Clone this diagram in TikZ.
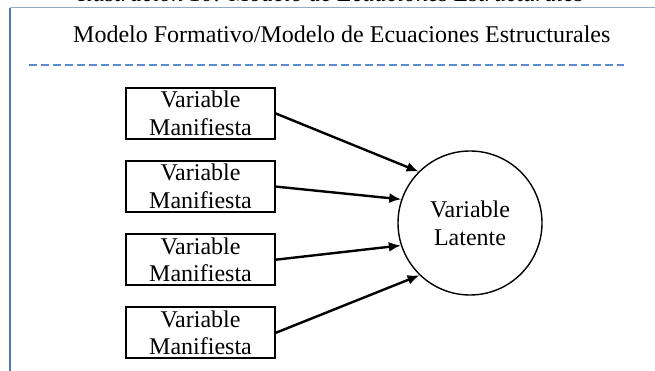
\documentclass[tikz,border=0pt]{standalone}
\usepackage{fontspec}
\setmainfont{Liberation Serif}
\usetikzlibrary{positioning,arrows.meta}
\definecolor{frameblue}{HTML}{4F79B5}
\definecolor{framelight}{HTML}{93ABCB}
\definecolor{dashblue}{HTML}{5B8BCF}
\tikzset{
  manifest box/.style={
    draw=black,
    line width=1.6pt,
    minimum width=149pt,
    minimum height=51pt,
    inner sep=0pt,
    align=center,
    font=\fontsize{24}{27.7}\selectfont,
  },
  latent circle/.style={
    draw=black,
    line width=1.4pt,
    circle,
    minimum size=144pt,
    inner sep=0pt,
    align=center,
    font=\fontsize{24}{27.7}\selectfont,
  },
  path arrow/.style={
    line width=2.4pt,
    -{Latex[length=12pt,width=10pt]},
  }
}

\begin{document}
\begin{tikzpicture}[x=1pt, y=1pt, node distance=20.5pt]
        \useasboundingbox (0,0) rectangle (655,371);
        \begin{scope}
        \clip (0,0) rectangle (655,371);
        \node [anchor=base, font=\fontsize{24}{27.7}\selectfont\itshape] (caption) at (331,369.5) {Ilustración 10: Modelo de Ecuaciones Estructurales};
        \end{scope}

        % frame
        \draw [framelight, line width=1pt] (10,363) -- (655,363);
        \draw [frameblue, line width=2pt] (10,363) -- (10,0);

        \node [anchor=base west, inner sep=0pt, font=\fontsize{24}{27.7}\selectfont] (title) at (73,328) {Modelo Formativo/Modelo de Ecuaciones Estructurales};
        \draw [dashblue, line width=1.3pt, dash pattern=on 8pt off 4pt] (29,306) -- (624,306);

        \node [manifest box] (m1) at (200.5,257.5) {Variable\\Manifiesta};
        \node [manifest box, below=of m1] (m2) {Variable\\Manifiesta};
        \node [manifest box, below=of m2] (m3) {Variable\\Manifiesta};
        \node [manifest box, below=of m3] (m4) {Variable\\Manifiesta};

        \node [latent circle] (lat) at (470,148) {Variable\\Latente};

        \draw [path arrow] (m1.east) -- (lat.135);
        \draw [path arrow] (m2.east) -- (lat.161);
        \draw [path arrow] (m3.east) -- (lat.198);
        \draw [path arrow] (m4.east) -- (lat.226);
      \end{tikzpicture}
\end{document}
